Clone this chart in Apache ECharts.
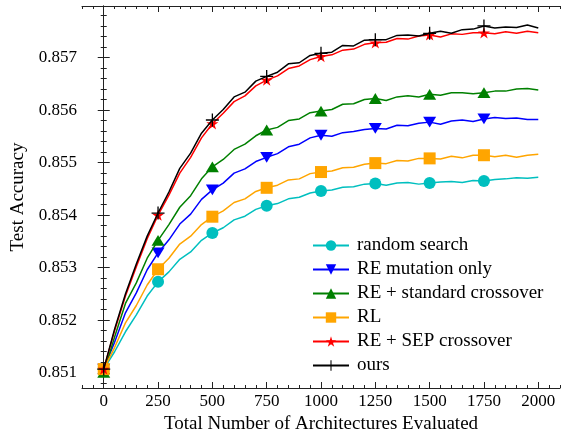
<!DOCTYPE html>
<html><head><meta charset="utf-8">
<script src="https://cdn.jsdelivr.net/npm/echarts@6/dist/echarts.min.js"></script>
<style>html,body{margin:0;padding:0;background:#fff}#c{width:563px;height:434px}</style>
</head><body><div id="c"></div>
<script>
const xs = [0,50,100,150,200,250,300,350,400,450,500,550,600,650,700,750,800,850,900,950,1000,1050,1100,1150,1200,1250,1300,1350,1400,1450,1500,1550,1600,1650,1700,1750,1800,1850,1900,1950,2000];
const markerXs = [0,250,500,750,1000,1250,1500,1750];
const xTicks = [0,250,500,750,1000,1250,1500,1750,2000];
const yTicks = [0.851,0.852,0.853,0.854,0.855,0.856,0.857];

const randomSearch = [0.85107,0.85140,0.85178,0.85210,0.85246,0.85273,0.85292,0.85316,0.85330,0.85352,0.85366,0.85376,0.85391,0.85398,0.85411,0.85418,0.85422,0.85431,0.85434,0.85442,0.85446,0.85448,0.85453,0.85454,0.85459,0.85460,0.85457,0.85461,0.85462,0.85459,0.85461,0.85463,0.85464,0.85462,0.85466,0.85465,0.85468,0.85469,0.85471,0.85470,0.85472];
const reMutation = [0.85107,0.85158,0.85214,0.85252,0.85296,0.85328,0.85353,0.85383,0.85402,0.85430,0.85448,0.85461,0.85480,0.85488,0.85502,0.85510,0.85517,0.85530,0.85535,0.85547,0.85552,0.85550,0.85557,0.85559,0.85563,0.85565,0.85564,0.85571,0.85570,0.85575,0.85577,0.85573,0.85579,0.85581,0.85578,0.85583,0.85586,0.85584,0.85585,0.85582,0.85582];
const reStdCross = [0.85101,0.85168,0.85232,0.85271,0.85318,0.85352,0.85382,0.85415,0.85437,0.85469,0.85492,0.85506,0.85525,0.85535,0.85551,0.85562,0.85567,0.85580,0.85583,0.85595,0.85598,0.85601,0.85611,0.85612,0.85620,0.85622,0.85618,0.85625,0.85627,0.85625,0.85630,0.85628,0.85633,0.85633,0.85631,0.85633,0.85636,0.85636,0.85640,0.85641,0.85638];
const rl = [0.85107,0.85148,0.85195,0.85228,0.85267,0.85297,0.85318,0.85345,0.85360,0.85382,0.85397,0.85408,0.85424,0.85431,0.85445,0.85452,0.85457,0.85467,0.85469,0.85479,0.85482,0.85484,0.85490,0.85491,0.85497,0.85499,0.85498,0.85504,0.85503,0.85508,0.85508,0.85507,0.85512,0.85509,0.85514,0.85514,0.85511,0.85514,0.85510,0.85514,0.85516];
const reSep = [0.85107,0.85180,0.85246,0.85302,0.85355,0.85400,0.85438,0.85480,0.85510,0.85547,0.85574,0.85594,0.85616,0.85627,0.85646,0.85657,0.85665,0.85679,0.85684,0.85696,0.85702,0.85705,0.85714,0.85716,0.85725,0.85728,0.85729,0.85736,0.85735,0.85741,0.85743,0.85739,0.85745,0.85744,0.85747,0.85747,0.85745,0.85749,0.85746,0.85750,0.85747];
const ours = [0.85107,0.85183,0.85250,0.85307,0.85360,0.85404,0.85444,0.85489,0.85518,0.85556,0.85581,0.85601,0.85625,0.85634,0.85655,0.85664,0.85672,0.85688,0.85690,0.85704,0.85708,0.85710,0.85723,0.85722,0.85733,0.85734,0.85734,0.85742,0.85743,0.85741,0.85746,0.85750,0.85746,0.85753,0.85754,0.85760,0.85756,0.85758,0.85757,0.85762,0.85756];

const names = ['random search','RE mutation only','RE + standard crossover','RL','RE + SEP crossover','ours'];
const seriesValues = [randomSearch, reMutation, reStdCross, rl, reSep, ours];
const colors = ['#00bfbf','#0000ff','#008000','#ffa500','#ff0000','#000000'];

const STAR = 'path://M0,-1 L0.2245,-0.309 L0.951,-0.309 L0.363,0.118 L0.588,0.809 L0,0.382 L-0.588,0.809 L-0.363,0.118 L-0.951,-0.309 L-0.2245,-0.309 Z';
const PLUS = 'path://M-1,-0.1 L-0.1,-0.1 L-0.1,-1 L0.1,-1 L0.1,-0.1 L1,-0.1 L1,0.1 L0.1,0.1 L0.1,1 L-0.1,1 L-0.1,0.1 L-1,0.1 Z';
const TRI_DOWN = 'path://M-1,-0.9 L1,-0.9 L0,0.9 Z';
const TRI_UP = 'path://M-1,0.9 L1,0.9 L0,-0.9 Z';
const symbols = ['circle', TRI_DOWN, TRI_UP, 'rect', STAR, PLUS];
const symSizes = [12, [13,12], [13,12], 12, 12, 13];

const FONT = 'Liberation Serif';
const xMinor = []; for (let v = -100; v <= 2100; v += 50) xMinor.push(v);
const yMinor = []; for (let k = 0; k <= 36; k++) { const v = +(0.8508 + k*0.0002).toFixed(4); if (v < 0.85798) yMinor.push(v); }

const XMIN = -100, XMAX = 2100, YMIN = 0.85071, YMAX = 0.85798;
const axColor = '#222';
function xAx(pos, ticks, len, showLine, showLabel) {
  return { type:'value', position: pos, min:XMIN, max:XMAX,
    axisLine:{show:showLine, lineStyle:{color:axColor, width:1}},
    axisTick:{show:true, inside:true, length:len, customValues:ticks, lineStyle:{color:axColor, width:1}},
    axisLabel:{show:showLabel, customValues:ticks, color:'#000', fontFamily:FONT, fontSize:17, margin:5, formatter:v=>String(v)},
    splitLine:{show:false} };
}
function yAx(pos, ticks, len, showLine, showLabel) {
  return { type:'value', position: pos, min:YMIN, max:YMAX,
    axisLine:{show:showLine, lineStyle:{color:axColor, width:1}},
    axisTick:{show:true, inside:true, length:len, customValues:ticks, lineStyle:{color:axColor, width:1}},
    axisLabel:{show:showLabel, customValues:ticks, color:'#000', fontFamily:FONT, fontSize:17, margin:5, formatter:v=>v.toFixed(3)},
    splitLine:{show:false} };
}
const xAxes = [xAx('bottom', xTicks, 6, true, true), xAx('bottom', xMinor, 3, false, false), xAx('top', xTicks, 6, true, false), xAx('top', xMinor, 3, false, false)];
xAxes[0].name = 'Total Number of Architectures Evaluated';
xAxes[0].nameLocation = 'middle'; xAxes[0].nameGap = 22;
xAxes[0].nameTextStyle = {fontFamily:FONT, fontSize:19, color:'#000'};
const yAxes = [yAx('left', yTicks, 6, true, true), yAx('left', yMinor, 3, false, false), yAx('right', yTicks, 6, true, false), yAx('right', yMinor, 3, false, false)];
yAxes[0].name = 'Test Accuracy';
yAxes[0].nameLocation = 'middle'; yAxes[0].nameGap = 41;
yAxes[0].nameTextStyle = {fontFamily:FONT, fontSize:19, color:'#000'};

const series = seriesValues.map((vals, i) => ({
  name: names[i], type:'line', xAxisIndex:0, yAxisIndex:0,
  symbol: symbols[i], symbolSize: symSizes[i], symbolKeepAspect: true,
  showAllSymbol: true, animation:false,
  lineStyle:{color:colors[i], width:1.5}, itemStyle:{color:colors[i], borderWidth:0},
  data: xs.map((x, j) => markerXs.includes(x) ? [x, vals[j]] : {value:[x, vals[j]], symbol:'none'}),
  z: 2 + i
}));

const chart = echarts.init(document.getElementById('c'), null, {renderer:'canvas'});
chart.setOption({
  animation:false,
  backgroundColor:'#fff',
  grid:{left:82, top:6, right:3, bottom:46, containLabel:false, outerBoundsMode:'none'},
  xAxis: xAxes, yAxis: yAxes,
  legend:{ data:names, orient:'vertical', left:307, top:231, itemWidth:36, itemHeight:13, itemGap:5,
    textStyle:{fontFamily:FONT, fontSize:19, color:'#000', padding:[0,0,0,3]} },
  series: series
});
</script></body></html>
